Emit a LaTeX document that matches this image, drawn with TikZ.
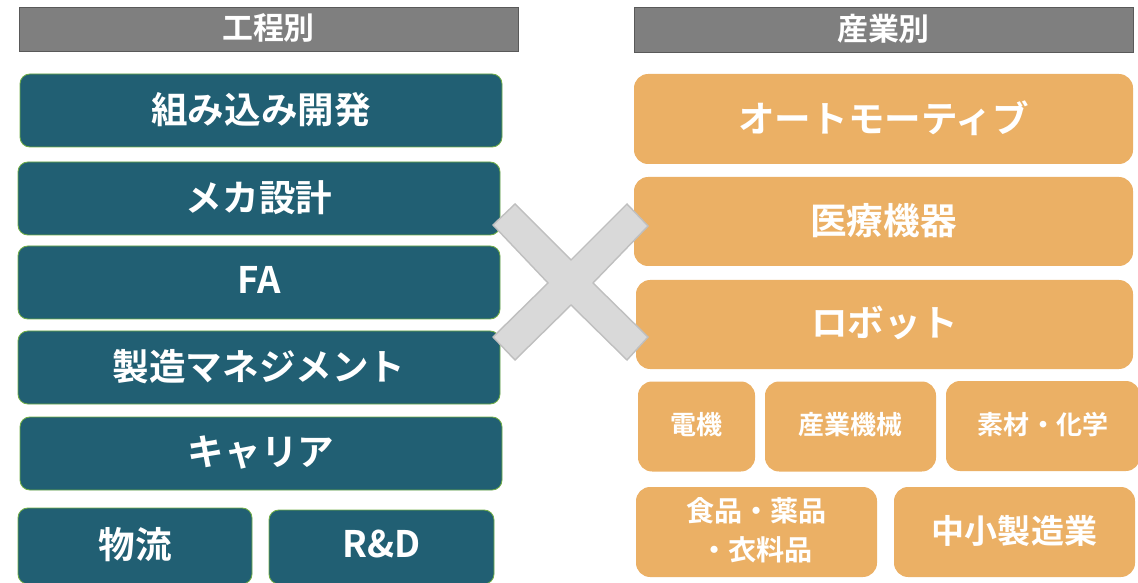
\documentclass[tikz,border=0pt]{standalone}
\usepackage{fontspec}
\setmainfont{Noto Sans CJK JP}[BoldFont={* Bold}]

\definecolor{teal}{HTML}{215F73}
\definecolor{leaf}{HTML}{70AD47}
\definecolor{sand}{HTML}{EBB065}
\definecolor{headgray}{HTML}{7F7F7F}
\definecolor{headline}{HTML}{595959}

\tikzset{
		head/.style={fill=headgray, draw=headline, line width=0.6pt, text=white, font=\bfseries\fontsize{22}{26}\selectfont, inner sep=0pt, text depth=0.35em},
		proc/.style={fill=teal, draw=leaf, line width=0.6pt, rounded corners=7pt, text=white, font=\bfseries\fontsize{26}{30}\selectfont, inner sep=0pt, text depth=0.4em},
		ind/.style={fill=sand, draw=none, rounded corners=10pt, text=white, font=\bfseries\fontsize{26}{30}\selectfont, inner sep=0pt, text depth=0.4em},
		small/.style={font=\bfseries\fontsize{18.5}{22}\selectfont},
		cross/.style={fill=black!15, draw=black!25, line width=1pt}
	}

\begin{document}
\begin{tikzpicture}[x=0.025cm, y=-0.025cm]
	
	\useasboundingbox (0,0) rectangle (1138,583);
	
	% headers
	\node (byproc) at (268.5,29) [head, minimum width=499*0.025cm, minimum height=44*0.025cm] {工程別};
	\node (byind) at (883.5,29.5) [head, minimum width=499*0.025cm, minimum height=45*0.025cm] {産業別};
	
	% left column
	\node (embedded) at (261,110.5) [proc, minimum width=482*0.025cm, minimum height=73*0.025cm] {組み込み開発};
	\node (mecha) at (259,198.5) [proc, minimum width=482*0.025cm, minimum height=73*0.025cm] {メカ設計};
	\node (fa) at (259,282.5) [proc, minimum width=482*0.025cm, minimum height=73*0.025cm] {FA};
	\node (mgmt) at (259,367.5) [proc, minimum width=482*0.025cm, minimum height=73*0.025cm] {製造マネジメント};
	\node (career) at (261,453.5) [proc, minimum width=482*0.025cm, minimum height=73*0.025cm] {キャリア};
	\node (logi) at (135,546) [proc, minimum width=234*0.025cm, minimum height=76*0.025cm] {物流};
	\node (rnd) at (381.5,547) [proc, minimum width=225*0.025cm, minimum height=74*0.025cm] {R\&D};
	
	% right column
	\node (auto) at (883.5,119) [ind, minimum width=499*0.025cm, minimum height=90*0.025cm] {オートモーティブ};
	\node (medical) at (883.5,221.5) [ind, minimum width=499*0.025cm, minimum height=89*0.025cm] {医療機器};
	\node (robot) at (884.5,324.5) [ind, minimum width=497*0.025cm, minimum height=89*0.025cm] {ロボット};
	\node (elec) at (696.5,426.5) [ind, small, minimum width=117*0.025cm, minimum height=90*0.025cm] {電機};
	\node (machine) at (850.5,426.5) [ind, small, minimum width=171*0.025cm, minimum height=90*0.025cm] {産業機械};
	\node (chem) at (1043,426) [ind, small, minimum width=194*0.025cm, minimum height=90*0.025cm] {素材・化学};
	\node (food) at (756.5,532) [ind, align=center, font=\bfseries\fontsize{20}{28}\selectfont, minimum width=241*0.025cm, minimum height=90*0.025cm] {食品・薬品\\・衣料品};
	\node (sme) at (1014.5,532) [ind, font=\bfseries\fontsize{23.5}{28}\selectfont, minimum width=241*0.025cm, minimum height=90*0.025cm] {中小製造業};
	
	% the cross
	\draw[cross] (493,225) -- (515,204) -- (571,260) -- (627,204) -- (648,226) -- (593,283)
		-- (648,337) -- (627,360) -- (571,305) -- (515,360) -- (493,337) -- (548,283) -- cycle;
	
\end{tikzpicture}
\end{document}
